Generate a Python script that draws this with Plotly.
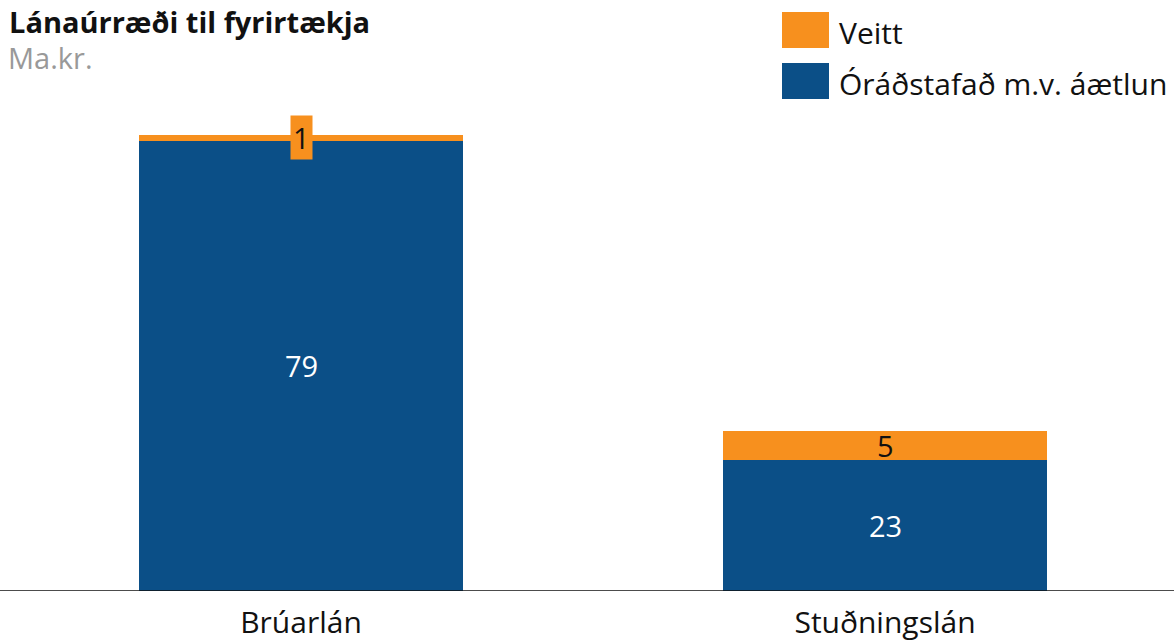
import plotly.graph_objects as go

categories = ["Brúarlán", "Stuðningslán"]
series_names = ["Óráðstafað m.v. áætlun", "Veitt"]
oradstafad = [79, 23]
veitt = [1, 5]
title = "Lánaúrræði til fyrirtækja"
subtitle = "Ma.kr."

BLUE = "#0b4f87"
ORANGE = "#f7901e"
FONT = "Open Sans"

W, H = 1174, 642
T, B = 100, 51
PH = H - T - B  # plot height in px
PX_PER_UNIT = 5.7


def px(P):  # page x -> paper x
    return P / W


def py(P):  # page y -> paper y
    return 1 + (T - P) / PH


fig = go.Figure()
fig.add_bar(x=categories, y=oradstafad, name=series_names[0], marker_color=BLUE,
            marker_line_width=0, width=0.555)
fig.add_bar(x=categories, y=veitt, name=series_names[1], marker_color=ORANGE,
            marker_line_width=0, width=0.555)

ann = []
for c, b, o in zip(categories, oradstafad, veitt):
    ann.append(dict(x=c, y=b / 2, text=str(b), showarrow=False,
                    font=dict(family=FONT, size=29, color="white")))
    small = o < 3
    ann.append(dict(x=c, y=b + o / 2, text=str(o), showarrow=False,
                    font=dict(family=FONT, size=29, color="#111111"),
                    bgcolor=ORANGE if small else None, borderpad=2 if small else 0))

ann.append(dict(xref="paper", yref="paper", x=px(7), y=py(0), xanchor="left", yanchor="top",
                text="<b>" + title + "</b>", showarrow=False,
                font=dict(family=FONT, size=29, color="#111111")))
ann.append(dict(xref="paper", yref="paper", x=px(6), y=py(57), xanchor="left", yanchor="middle",
                text=subtitle, showarrow=False,
                font=dict(family=FONT, size=29, color="#999999")))

# legend drawn manually
shapes = []
leg = [(series_names[1], ORANGE, 30, 33), (series_names[0], BLUE, 81, 84)]
for name, col, yc, ty in leg:
    shapes.append(dict(type="rect", xref="paper", yref="paper",
                       x0=px(782), x1=px(829), y0=py(yc + 18), y1=py(yc - 18),
                       fillcolor=col, line_width=0))
    ann.append(dict(xref="paper", yref="paper", x=px(837), y=py(ty),
                    xanchor="left", yanchor="middle", text=name, showarrow=False,
                    font=dict(family=FONT, size=30, color="#111111")))

shapes.append(dict(type="line", xref="paper", yref="y", x0=0, x1=1, y0=0, y1=0,
                   line=dict(color="#111111", width=1.5)))

x0 = -301 / 584
fig.update_layout(
    width=W, height=H, barmode="stack", showlegend=False,
    margin=dict(l=0, r=0, t=T, b=B),
    plot_bgcolor="white", paper_bgcolor="white",
    xaxis=dict(range=[x0, x0 + W / 584], showgrid=False, showline=False,
               ticks="", ticklabelstandoff=11,
               tickfont=dict(family=FONT, size=30, color="#111111")),
    yaxis=dict(range=[0, PH / PX_PER_UNIT], visible=False, showgrid=False),
    annotations=ann, shapes=shapes,
)
fig.write_html("out.html", config={"displayModeBar": False},
               post_script="document.body.style.margin='0px';")
